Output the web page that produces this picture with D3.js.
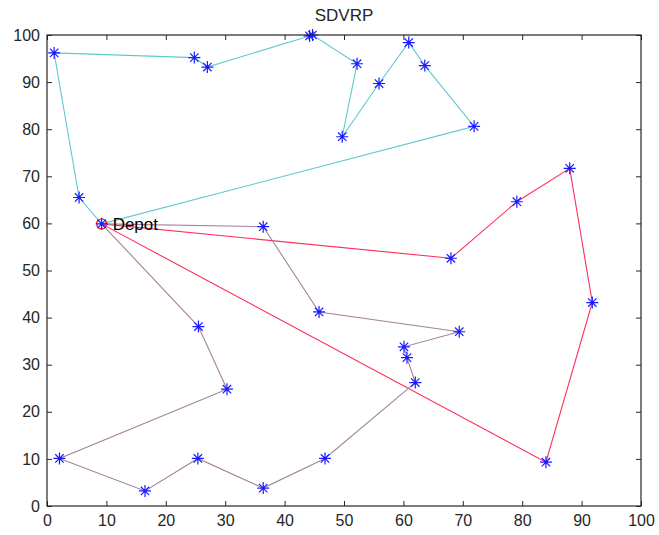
<!DOCTYPE html>
<html>
<head>
<meta charset="utf-8">
<script src="https://cdn.jsdelivr.net/npm/d3@7"></script>
<style>
  html, body { margin: 0; padding: 0; background: #fff; }
  svg { display: block; }
  text { font-family: "Liberation Sans", Arial, sans-serif; fill: #262626; }
</style>
</head>
<body>
<svg id="chart" width="659" height="535"></svg>
<script>
// Depot location
const depot = [9.2, 59.9];

// Route 1 (cyan) customer sequence
const route1 = [[5.4, 65.5], [1.2, 96.2], [24.8, 95.2], [27.0, 93.2], [44.2, 99.8], [44.7, 100],
  [52.2, 93.9], [49.7, 78.4], [55.9, 89.7], [60.9, 98.4], [63.6, 93.5], [71.9, 80.6]];

// Route 2 (red) customer sequence
const route2 = [[84.0, 9.3], [91.8, 43.2], [88.0, 71.7], [79.1, 64.6], [68.0, 52.6]];

// Route 3 (mauve) customer sequence
const route3 = [[36.4, 59.3], [45.8, 41.2], [69.4, 37.0], [60.1, 33.8], [60.6, 31.5], [62.0, 26.2],
  [46.8, 10.1], [36.4, 3.8], [25.4, 10.1], [16.5, 3.2], [2.1, 10.1], [30.3, 24.8], [25.5, 38.1]];

const routeColors = ["#5ec8d2", "#ff2f5a", "#a48397"];
const xTicks = [0, 10, 20, 30, 40, 50, 60, 70, 80, 90, 100];
const yTicks = [0, 10, 20, 30, 40, 50, 60, 70, 80, 90, 100];

const svg = d3.select("#chart");
const m = { left: 47, right: 641, top: 35, bottom: 506 };
const x = d3.scaleLinear().domain([0, 100]).range([m.left, m.right]);
const y = d3.scaleLinear().domain([0, 100]).range([m.bottom, m.top]);

// Title
svg.append("text").attr("x", (m.left + m.right) / 2).attr("y", 21)
  .attr("text-anchor", "middle").style("font-size", "17px").text("SDVRP");

// Routes: each starts and ends at the depot
const routes = [route1, route2, route3];
const line = d3.line().x(d => x(d[0])).y(d => y(d[1]));
routes.forEach((r, i) => {
  svg.append("path").datum([depot, ...r, depot])
    .attr("d", line).attr("fill", "none")
    .attr("stroke", routeColors[i]).attr("stroke-width", 1.1);
});

// Depot circle
svg.append("circle").attr("cx", x(depot[0])).attr("cy", y(depot[1])).attr("r", 5)
  .attr("fill", "none").attr("stroke", "#ff2020").attr("stroke-width", 1.4);

// Asterisk markers for every node
const allPts = [depot, ...route1, ...route2, ...route3];
const s = 6;
const star = `M${-s},0H${s}M0,${-s}V${s}M${-s*0.7},${-s*0.7}L${s*0.7},${s*0.7}M${-s*0.7},${s*0.7}L${s*0.7},${-s*0.7}`;
svg.append("g").selectAll("path").data(allPts).join("path")
  .attr("transform", d => `translate(${x(d[0])},${y(d[1])})`)
  .attr("d", star).attr("fill", "none").attr("stroke", "#1a1aff").attr("stroke-width", 1.2);

// Depot label
svg.append("text").attr("x", x(depot[0]) + 11).attr("y", y(depot[1]) + 6)
  .style("font-size", "17px").style("fill", "#000").text("Depot");

// Axes with inward ticks on all four sides
const axisG = svg.append("g");
axisG.append("g").attr("transform", `translate(0,${m.bottom})`)
  .call(d3.axisBottom(x).tickValues(xTicks).tickSize(-5).tickPadding(9).tickFormat(d3.format("d")));
axisG.append("g").attr("transform", `translate(${m.left},0)`)
  .call(d3.axisLeft(y).tickValues(yTicks).tickSize(-5).tickPadding(7).tickFormat(d3.format("d")));
axisG.append("g").attr("transform", `translate(0,${m.top})`)
  .call(d3.axisTop(x).tickValues(xTicks).tickSize(-5).tickFormat(""));
axisG.append("g").attr("transform", `translate(${m.right},0)`)
  .call(d3.axisRight(y).tickValues(yTicks).tickSize(-5).tickFormat(""));
axisG.selectAll(".domain").remove();
axisG.selectAll("line").attr("stroke", "#262626");
axisG.selectAll("text").style("font-size", "16px").style("font-family", "\"Liberation Sans\", Arial, sans-serif").attr("fill", "#262626");

svg.append("rect").attr("x", m.left).attr("y", m.top)
  .attr("width", m.right - m.left).attr("height", m.bottom - m.top)
  .attr("fill", "none").attr("stroke", "#262626").attr("stroke-width", 1.2);
</script>
</body>
</html>
